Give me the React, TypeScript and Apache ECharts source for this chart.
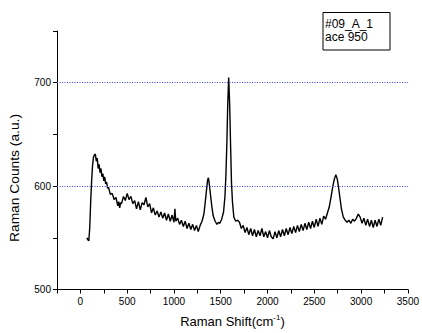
import React, { useEffect, useRef } from "react";
import * as echarts from "echarts";

const ramanShift: number[] = [
  70, 80, 90, 100, 110, 120, 130, 140, 150, 160, 170, 180, 190, 200, 210, 220, 230, 240, 250, 260,
  270, 280, 290, 300, 320, 340, 360, 380, 400, 410, 420, 430, 440, 460, 480, 500, 520, 540, 560, 580,
  600, 620, 640, 660, 680, 700, 720, 740, 760, 780, 800, 820, 840, 860, 880, 900, 920, 940, 960, 980,
  1000, 1010, 1020, 1040, 1060, 1080, 1100, 1120, 1140, 1160, 1180, 1200, 1220, 1240, 1260, 1280, 1300, 1320, 1335, 1350,
  1360, 1368, 1375, 1390, 1405, 1420, 1440, 1460, 1475, 1490, 1510, 1530, 1545, 1555, 1565, 1575, 1585, 1595, 1605, 1615,
  1625, 1640, 1660, 1680, 1700, 1720, 1740, 1760, 1780, 1800, 1820, 1840, 1860, 1880, 1900, 1920, 1940, 1960, 1980, 2000,
  2020, 2040, 2060, 2080, 2100, 2120, 2140, 2160, 2180, 2200, 2220, 2240, 2260, 2280, 2300, 2320, 2340, 2360, 2380, 2400,
  2420, 2440, 2460, 2480, 2500, 2520, 2540, 2560, 2580, 2600, 2620, 2640, 2660, 2680, 2700, 2715, 2730, 2745, 2760, 2775,
  2790, 2810, 2830, 2850, 2870, 2890, 2910, 2930, 2950, 2970, 2990, 3010, 3030, 3050, 3070, 3090, 3110, 3130, 3150, 3170,
  3190, 3210, 3230,
];

const ramanCounts: number[] = [
  550, 548, 547, 560, 585, 605, 620, 628, 630, 631, 624, 627, 617, 621, 613, 617, 609, 612, 605, 609,
  602, 604, 598, 599, 592, 593, 587, 589, 581, 585, 579, 584, 583, 590, 586, 593, 587, 590, 583, 586,
  578, 585, 577, 584, 582, 589, 580, 583, 574, 579, 572, 576, 570, 575, 569, 574, 567, 573, 566, 572,
  565, 578, 566, 569, 563, 567, 561, 566, 559, 564, 558, 563, 557, 562, 556, 562, 566, 573, 585, 598,
  606, 608, 604, 592, 580, 571, 566, 563, 565, 564, 568, 575, 590, 610, 640, 680, 705, 680, 640, 603,
  585, 570, 566, 567, 565, 559, 562, 555, 560, 553, 559, 552, 558, 551, 557, 552, 559, 551, 556, 550,
  557, 551, 549, 556, 550, 557, 551, 558, 552, 559, 553, 560, 554, 561, 555, 562, 556, 563, 557, 564,
  558, 565, 559, 566, 560, 568, 561, 569, 563, 571, 568, 574, 580, 590, 601, 607, 611, 607, 598, 588,
  578, 570, 567, 565, 567, 564, 568, 566, 569, 573, 570, 564, 569, 562, 568, 561, 567, 560, 567, 561,
  568, 562, 570,
];

const yTickLabels: number[] = [500, 600, 700];
const xTickLabels: number[] = [0, 500, 1000, 1500, 2000, 2500, 3000, 3500];
const guideLines: number[] = [600, 700];
const legendLines: string[] = ["#09_A_1", "ace 950"];

const FONT = "'Liberation Sans', Arial, sans-serif";

export default function App() {
  const ref = useRef<HTMLDivElement>(null);

  useEffect(() => {
    if (!ref.current) return;
    const chart = echarts.init(ref.current, null, { renderer: "svg" });
    const data = ramanShift.map((x, i) => [x, ramanCounts[i]]);
    chart.setOption({
      animation: false,
      backgroundColor: "#ffffff",
      grid: { left: 57, right: 9.3, top: 31, bottom: 41.3, containLabel: false },
      xAxis: {
        type: "value",
        min: -250,
        max: 3500,
        interval: 250,
        name: "{a|Raman Shift(cm}{s|-1}{a|)}",
        nameLocation: "middle",
        nameGap: 24,
        nameTextStyle: {
          rich: {
            a: { fontSize: 13, fontFamily: FONT, color: "#000" },
            s: { fontSize: 8, fontFamily: FONT, color: "#000", padding: [0, 0, 8, 0] },
          },
        },
        axisLine: { show: true, onZero: false, lineStyle: { color: "#000", width: 1 } },
        axisTick: { show: true, length: 4, inside: false, lineStyle: { color: "#000" } },
        axisLabel: {
          fontSize: 10,
          fontFamily: FONT,
          color: "#000",
          margin: 7,
          formatter: (v: number) => (xTickLabels.includes(v) ? String(v) : ""),
        },
        splitLine: { show: false },
      },
      yAxis: {
        type: "value",
        min: 500,
        max: 750,
        interval: 50,
        axisLine: { show: true, onZero: false, lineStyle: { color: "#000", width: 1 } },
        axisTick: { show: true, length: 4, inside: false, lineStyle: { color: "#000" } },
        axisLabel: {
          fontSize: 10,
          fontFamily: FONT,
          color: "#000",
          margin: 6,
          formatter: (v: number) => (yTickLabels.includes(v) ? String(v) : ""),
        },
        splitLine: { show: false },
      },
      series: [
        {
          type: "line",
          data,
          showSymbol: false,
          symbol: "none",
          lineStyle: { color: "#000", width: 1.4 },
          markLine: {
            silent: true,
            symbol: "none",
            label: { show: false },
            lineStyle: { color: "#3344ee", type: [1, 1.5], width: 1 },
            data: guideLines.map((v) => ({ yAxis: v })),
          },
          z: 3,
        },
      ],
      graphic: [
        {
          type: "text",
          x: 15,
          y: 178,
          rotation: Math.PI / 2,
          scaleX: 1.15,
          style: {
            text: "Raman Counts (a.u.)",
            fontSize: 12,
            fontFamily: FONT,
            fill: "#000",
            align: "center",
            verticalAlign: "middle",
          },
        },
        {
          type: "rect",
          shape: { x: 323, y: 12.5, width: 67, height: 37.5 },
          style: { fill: "#fff", stroke: "#000", lineWidth: 1 },
        },
        {
          type: "text",
          x: 325,
          y: 17,
          style: {
            text: legendLines.join("\n"),
            fontSize: 12,
            lineHeight: 13.5,
            fontFamily: FONT,
            fill: "#000",
            align: "left",
            verticalAlign: "top",
          },
        },
      ],
    });
    return () => chart.dispose();
  }, []);

  return (
    <div
      ref={ref}
      style={{ position: "fixed", left: 0, top: 0, width: 422, height: 333, background: "#fff" }}
    />
  );
}
